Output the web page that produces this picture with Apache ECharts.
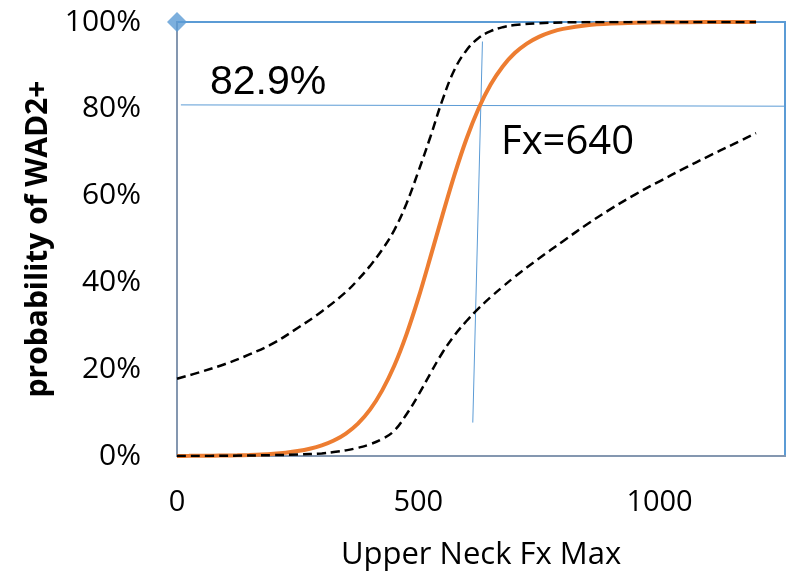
<!DOCTYPE html>
<html>
<head>
<meta charset="utf-8">
<script src="https://cdn.jsdelivr.net/npm/echarts@6/dist/echarts.min.js"></script>
<style>html,body{margin:0;padding:0;background:#fff}#chart{width:788px;height:578px}</style>
</head>
<body>
<div id="chart"></div>
<script>
// Fitted probability curve (orange)
const fitX = [0,25,50,75,100,125,150,175,200,225,250,275,300,325,350,375,400,425,450,475,500,525,550,575,600,625,650,675,700,725,750,775,800,850,900,950,1000,1100,1200];
const fitY = [0.0002,0.0003,0.0005,0.0007,0.0011,0.0016,0.0024,0.0035,0.0052,0.0077,0.0113,0.0166,0.0244,0.0357,0.0518,0.0746,0.1067,0.1506,0.2072,0.2785,0.3630,0.4576,0.5545,0.6478,0.7311,0.8006,0.8558,0.8976,0.9284,0.9503,0.9658,0.9766,0.9841,0.9927,0.9966,0.9985,0.9993,0.9998,1.0];
// Upper confidence bound (dashed)
const upperX = [0,50,100,150,200,250,300,350,375,400,425,450,475,500,525,550,575,600,625,650,675,700,750,800,900,1000,1100,1200];
const upperY = [0.178,0.194,0.212,0.234,0.26,0.295,0.333,0.378,0.406,0.438,0.475,0.52,0.58,0.655,0.735,0.82,0.89,0.935,0.963,0.979,0.988,0.993,0.997,0.999,1,1,1,1];
// Lower confidence bound (dashed)
const lowerX = [0,100,200,250,300,325,350,375,400,425,450,475,500,525,550,575,600,625,650,675,700,750,800,850,900,950,1000,1050,1100,1150,1200];
const lowerY = [0,0.0005,0.002,0.0035,0.006,0.009,0.013,0.019,0.027,0.039,0.058,0.095,0.14,0.19,0.238,0.278,0.311,0.34,0.366,0.39,0.413,0.455,0.495,0.534,0.57,0.603,0.633,0.662,0.69,0.717,0.744];
// Reference lines
const hLineX = [8, 1260];
const hLineY = [0.809, 0.806];
const vLineX = [633, 613];
const vLineY = [0.955, 0.077];
const markerPoint = [[0, 1]];
// Axis ticks / labels
const xTicks = [0, 500, 1000];
const xTitle = 'Upper Neck Fx Max';
const yTitle = 'probability of WAD2+';
const annotProb = '82.9%';
const annotFx = 'Fx=640';

const zip = (xs, ys) => xs.map((x, i) => [x, ys[i]]);

const chart = echarts.init(document.getElementById('chart'), null, {renderer: 'canvas'});
const blue = '#5B9BD5';
const axisGray = '#8497B0';
chart.setOption({
  animation: false,
  grid: {left: 177, top: 22, right: 3, bottom: 122, show: true, borderColor: blue, borderWidth: 2, containLabel: false, outerBoundsMode: 'none'},
  xAxis: {
    type: 'value', min: 0, max: 1260, interval: 500,
    axisLine: {show: true, lineStyle: {color: axisGray, width: 2}},
    axisTick: {show: false},
    splitLine: {show: false},
    axisLabel: {
      fontFamily: 'Open Sans', fontSize: 29, color: '#000', margin: 32,
      showMaxLabel: false,
      formatter: v => xTicks.includes(v) ? String(v) : ''
    },
    name: xTitle, nameLocation: 'middle', nameGap: 84,
    nameTextStyle: {fontFamily: 'Open Sans', fontSize: 31, color: '#000'}
  },
  yAxis: {
    type: 'value', min: 0, max: 1, interval: 0.2,
    axisLine: {show: true, lineStyle: {color: axisGray, width: 2}},
    axisTick: {show: false},
    splitLine: {show: false},
    axisLabel: {
      fontFamily: 'Open Sans', fontSize: 30, color: '#000', margin: 36,
      formatter: v => Math.round(v * 100) + '%'
    },
    name: yTitle, nameLocation: 'middle', nameGap: 124,
    nameTextStyle: {fontFamily: 'Open Sans', fontSize: 30, fontWeight: 'bold', color: '#000'}
  },
  series: [
    {type: 'line', data: zip(hLineX, hLineY), showSymbol: false, lineStyle: {color: blue, width: 1}, z: 1},
    {type: 'line', data: zip(vLineX, vLineY), showSymbol: false, lineStyle: {color: blue, width: 1}, z: 1},
    {type: 'line', data: zip(fitX, fitY), showSymbol: false, smooth: 0.3, lineStyle: {color: '#ED7D31', width: 4}, z: 2},
    {type: 'line', data: zip(upperX, upperY), showSymbol: false, smooth: 0.4, lineStyle: {color: '#000', width: 2.5, type: [9, 5]}, z: 3},
    {type: 'line', data: zip(lowerX, lowerY), showSymbol: false, smooth: 0.4, lineStyle: {color: '#000', width: 2.5, type: [9, 5]}, z: 3},
    {type: 'scatter', data: markerPoint, symbol: 'diamond', symbolSize: 20, itemStyle: {color: blue}, clip: false, z: 5}
  ],
  graphic: [
    {type: 'text', left: 210, top: 62, style: {text: annotProb, font: '41px "Liberation Sans", Arial, sans-serif', fill: '#000'}},
    {type: 'text', left: 501, top: 123, style: {text: annotFx, font: '40px "Open Sans", sans-serif', fill: '#000'}}
  ]
});
</script>
</body>
</html>
